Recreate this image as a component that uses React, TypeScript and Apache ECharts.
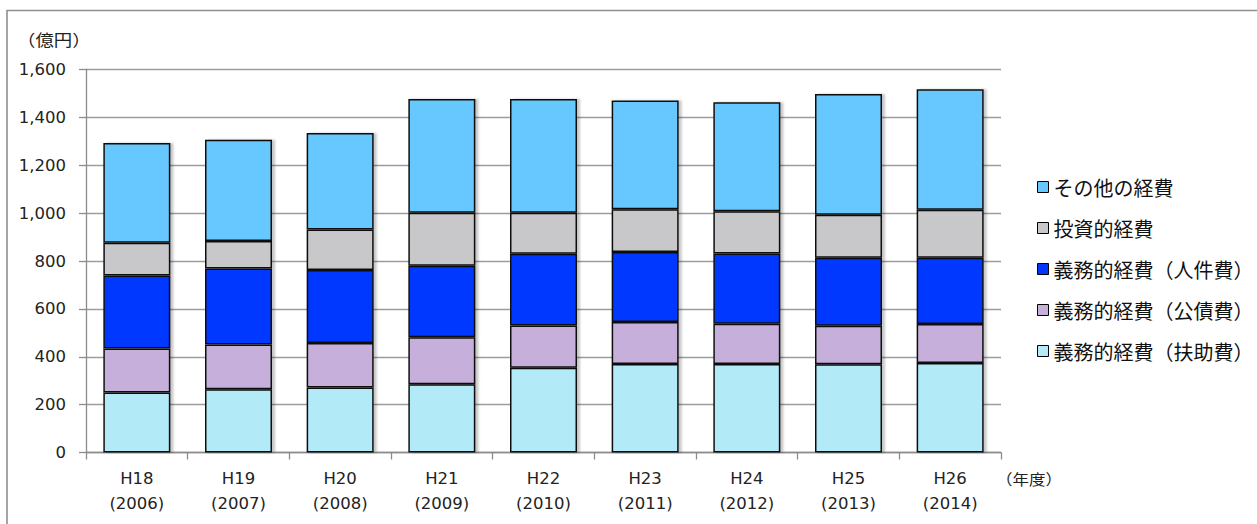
import React, { useEffect, useRef } from "react";
import * as echarts from "echarts";

// Fiscal years (Heisei era label + Western year)
const eraLabels = ["H18", "H19", "H20", "H21", "H22", "H23", "H24", "H25", "H26"];
const westernYears = ["2006", "2007", "2008", "2009", "2010", "2011", "2012", "2013", "2014"];

// Expenditure by type, 億円
const welfare = [251, 264, 272, 285, 354, 370, 370, 369, 374]; // 義務的経費（扶助費）
const debtService = [183, 187, 185, 196, 177, 175, 168, 161, 163]; // 義務的経費（公債費）
const personnel = [305, 318, 305, 299, 299, 293, 293, 284, 277]; // 義務的経費（人件費）
const investment = [137, 115, 170, 222, 172, 178, 177, 179, 200]; // 投資的経費
const other = [417, 423, 403, 475, 475, 454, 455, 505, 504]; // その他の経費

// Value axis range
const yMin = 0;
const yMax = 1600;
const yStep = 200;

const seriesDefs = [
  { name: "義務的経費（扶助費）", data: welfare, color: "#B3EAF8" },
  { name: "義務的経費（公債費）", data: debtService, color: "#C6B0DB" },
  { name: "義務的経費（人件費）", data: personnel, color: "#0037FF" },
  { name: "投資的経費", data: investment, color: "#C8C8CA" },
  { name: "その他の経費", data: other, color: "#66C8FF" },
];

const legendOrder = [
  "その他の経費",
  "投資的経費",
  "義務的経費（人件費）",
  "義務的経費（公債費）",
  "義務的経費（扶助費）",
];

const LATIN = "'DejaVu Sans', Verdana, sans-serif";
const CJK = "'Noto Sans CJK JP', 'Noto Sans', sans-serif";

export default function App() {
  const ref = useRef<HTMLDivElement>(null);

  useEffect(() => {
    document.body.style.margin = "0";
    if (!ref.current) return;
    const chart = echarts.init(ref.current, undefined, { renderer: "svg" });

    const categories = eraLabels.map((e, i) => `${e}\n(${westernYears[i]})`);

    chart.setOption({
      animation: false,
      backgroundColor: "#ffffff",
      grid: { left: 86, right: 256, top: 69.5, bottom: 71.5, containLabel: false },
      graphic: [
        {
          type: "rect",
          silent: true,
          shape: { x: 7, y: 10.5, width: 1400, height: 700 },
          style: { fill: "none", stroke: "#8f8f8f", lineWidth: 1.6 },
          z: 0,
        },
        {
          type: "text",
          x: 17,
          y: 39,
          scaleX: 1.15,
          style: {
            text: "（億円）",
            font: `16px ${CJK}`,
            fill: "#222",
            verticalAlign: "middle",
          },
        },
        {
          type: "text",
          x: 996,
          y: 479,
          scaleX: 1.1,
          style: {
            text: "（年度）",
            font: `15px ${CJK}`,
            fill: "#222",
            verticalAlign: "middle",
          },
        },
      ],
      legend: {
        orient: "vertical",
        left: 1032,
        top: 172,
        itemGap: 21,
        itemWidth: 11,
        itemHeight: 11,
        icon: "rect",
        data: legendOrder,
        itemStyle: { borderColor: "#000", borderWidth: 1, shadowBlur: 0, shadowOffsetX: 0 },
        textStyle: { fontFamily: CJK, fontSize: 20, lineHeight: 20, color: "#111" },
      },
      xAxis: {
        type: "category",
        data: categories,
        boundaryGap: true,
        axisLine: { show: true, lineStyle: { color: "#8c8c8c", width: 1.3 } },
        axisTick: { show: true, length: 7, alignWithLabel: false, lineStyle: { color: "#8c8c8c", width: 1.3 } },
        axisLabel: {
          interval: 0,
          margin: 13,
          fontFamily: LATIN,
          fontSize: 16.5,
          lineHeight: 25.5,
          color: "#222",
        },
      },
      yAxis: {
        type: "value",
        min: yMin,
        max: yMax,
        interval: yStep,
        axisLine: { show: true, lineStyle: { color: "#8c8c8c", width: 1.3 } },
        axisTick: { show: true, length: 7, lineStyle: { color: "#8c8c8c", width: 1.3 } },
        splitLine: { show: true, lineStyle: { color: "#9c9c9c", width: 1.3 } },
        axisLabel: {
          margin: 20,
          fontFamily: LATIN,
          fontSize: 16.5,
          color: "#222",
          formatter: (v: number) => v.toLocaleString("en-US"),
        },
      },
      series: seriesDefs.map((s) => ({
        name: s.name,
        type: "bar",
        stack: "total",
        barWidth: 67,
        data: s.data,
        itemStyle: {
          color: s.color,
          borderColor: "#111",
          borderWidth: 1.5,
          shadowColor: "rgba(0,0,0,0.22)",
          shadowBlur: 2,
          shadowOffsetX: 3,
          shadowOffsetY: 0,
        },
        emphasis: { disabled: true },
      })),
    });

    return () => chart.dispose();
  }, []);

  return <div ref={ref} style={{ width: 1257, height: 524 }} />;
}
